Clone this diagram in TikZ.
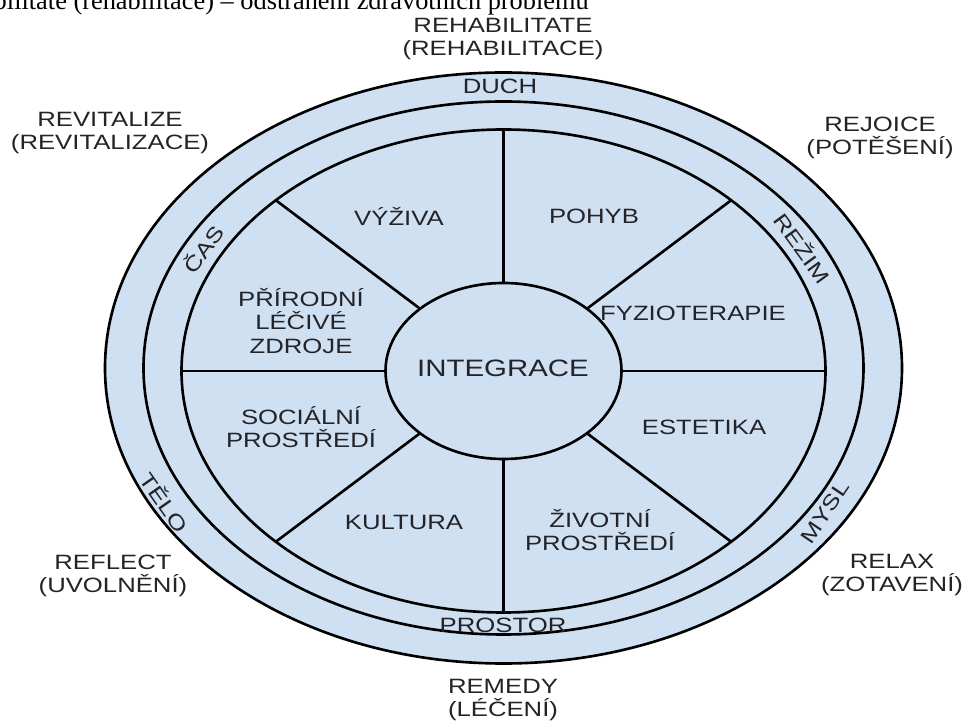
\documentclass[tikz,border=0pt]{standalone}
\usepackage{fontspec}
\setmainfont{Liberation Sans}[FakeStretch=1.24]
\newfontfamily\radekfont{Liberation Serif}
\definecolor{modra}{RGB}{207,224,242}
\definecolor{pismo}{RGB}{35,35,40}

\begin{document}
\begin{tikzpicture}[x=0.02cm, y=-0.02cm, line width=1.5pt,
    popis/.style={font=\fontsize{11.8}{13.5}\selectfont, align=center, inner sep=0pt, text=pismo}]
  \useasboundingbox (0,0) rectangle (968,722);
  \clip (0,0) rectangle (968,722);

  % useknuty radek textu nahore
  \node[anchor=base east, inner sep=0pt, font=\radekfont\fontsize{15}{18}\selectfont] (radek) at (590,10)
    {Rehabilitate (rehabilitace) – odstranění zdravotních problémů};

  % elipsy
  \coordinate (S) at (503.5,368);
  \coordinate (s) at (503.5,371);
  \fill[modra] (S) ellipse [x radius=398.5, y radius=295.5];
  \draw (S) ellipse [x radius=398.5, y radius=295.5];
  \draw (S) ellipse [x radius=360, y radius=266.5];
  \draw (s) ellipse [x radius=322, y radius=241.5];
  \draw (s) ellipse [x radius=118, y radius=88];

  % delici cary mezi stredem a vnitrni elipsou
  \foreach \a in {0,45,...,315}
    \draw[shift={(s)}] (\a:118 and 88) -- (\a:322 and 241.5);

  % stred a vysece
  \node[popis, font=\fontsize{13.5}{16}\selectfont] (integrace) at (503,368) {INTEGRACE};
  \node[popis] (vyziva) at (399,216) {VÝŽIVA};
  \node[popis] (pohyb) at (594,216) {POHYB};
  \node[popis] (fyzio) at (693,313) {FYZIOTERAPIE};
  \node[popis] (estetika) at (704,427) {ESTETIKA};
  \node[popis] (zivotni) at (600,530) {ŽIVOTNÍ\\PROSTŘEDÍ};
  \node[popis] (kultura) at (404,522) {KULTURA};
  \node[popis] (socialni) at (301,427) {SOCIÁLNÍ\\PROSTŘEDÍ};
  \node[popis] (prirodni) at (301,321) {PŘÍRODNÍ\\LÉČIVÉ\\ZDROJE};

  % popisy v prstencich
  \node[popis] (duch) at (500,86) {DUCH};
  \node[popis] (prostor) at (503,625) {PROSTOR};
  \node[popis, rotate=54] (cas) at (203,249) {ČAS};
  \node[popis, rotate=-54] (rezim) at (803,248) {REŽIM};
  \node[popis, rotate=-55] (telo) at (165,502) {TĚLO};
  \node[popis, rotate=56] (mysl) at (825,512) {MYSL};

  % popisy kolem
  \node[popis] (rehab) at (503,39) {REHABILITATE\\(REHABILITACE)};
  \node[popis] (revital) at (110,133) {REVITALIZE\\(REVITALIZACE)};
  \node[popis] (rejoice) at (880,138) {REJOICE\\(POTĚŠENÍ)};
  \node[popis] (reflect) at (113,576) {REFLECT\\(UVOLNĚNÍ)};
  \node[popis] (relax) at (892,575) {RELAX\\(ZOTAVENÍ)};
  \node[popis] (remedy) at (503,700) {REMEDY\\(LÉČENÍ)};
\end{tikzpicture}
\end{document}
